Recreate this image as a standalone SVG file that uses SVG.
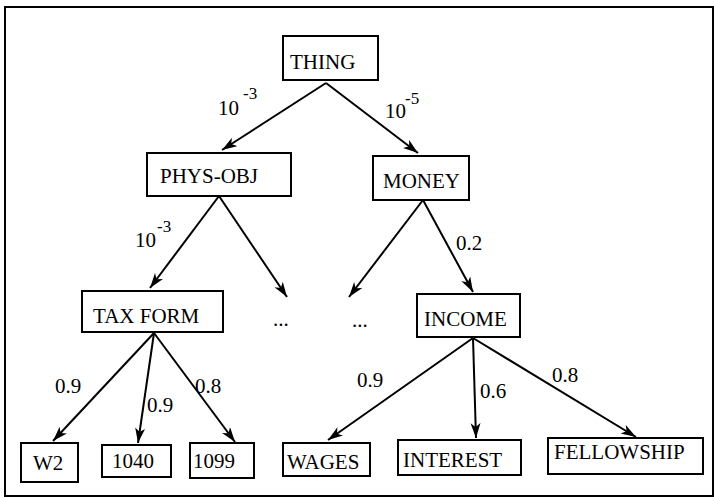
<svg xmlns="http://www.w3.org/2000/svg" width="714" height="498" viewBox="0 0 714 498">
<style>
.box{fill:#fff;stroke:#000;stroke-width:2}
text{font-family:"Liberation Serif","Times New Roman",Times,serif;font-size:21px;fill:#000}
.sup{font-size:17px}
.edge{stroke:#000;stroke-width:2;fill:none;marker-end:url(#arr)}
</style>
<defs>
<marker id="arr" markerUnits="userSpaceOnUse" markerWidth="16" markerHeight="12" refX="15" refY="5" orient="auto">
<path d="M0,0 L15,5 L0,10 L4,5 z" fill="#000"/>
</marker>
</defs>
<rect x="5" y="7" width="708" height="489" fill="#fff" stroke="#000" stroke-width="2"/>
<g id="connectors">
<line class="edge" x1="326" y1="83" x2="222" y2="150"/>
<line class="edge" x1="326" y1="83" x2="418" y2="153"/>
<line class="edge" x1="219" y1="196" x2="150" y2="288"/>
<line class="edge" x1="219" y1="196" x2="287" y2="297"/>
<line class="edge" x1="423" y1="200" x2="349" y2="297"/>
<line class="edge" x1="423" y1="200" x2="473" y2="292"/>
<line class="edge" x1="154" y1="333" x2="53" y2="441"/>
<line class="edge" x1="154" y1="333" x2="138" y2="443"/>
<line class="edge" x1="154" y1="333" x2="235" y2="442"/>
<line class="edge" x1="473" y1="338" x2="328" y2="440"/>
<line class="edge" x1="473" y1="338" x2="476" y2="438"/>
<line class="edge" x1="473" y1="338" x2="636" y2="437"/>
</g>
<g id="edge-labels">
<text x="218" y="115">10</text><text class="sup" x="243" y="99">-3</text>
<text x="385" y="118">10</text><text class="sup" x="405" y="104">-5</text>
<text x="135" y="247">10</text><text class="sup" x="157" y="232">-3</text>
<text x="456" y="250">0.2</text>
<text x="55" y="393">0.9</text>
<text x="147" y="412">0.9</text>
<text x="195" y="393">0.8</text>
<text x="357" y="387">0.9</text>
<text x="480" y="398">0.6</text>
<text x="552" y="382">0.8</text>
</g>
<g id="thing"><rect class="box" x="283" y="36" width="95" height="44"/><text x="290" y="69">THING</text></g>
<g id="phys-obj"><rect class="box" x="147" y="153" width="144" height="43"/><text x="160" y="183">PHYS-OBJ</text></g>
<g id="money"><rect class="box" x="373" y="156" width="96" height="44"/><text x="383" y="188">MONEY</text></g>
<g id="tax-form"><rect class="box" x="82" y="291" width="141" height="41"/><text x="93" y="323">TAX FORM</text></g>
<g id="dots-left"><text x="273" y="326">...</text></g>
<g id="dots-right"><text x="352" y="327">...</text></g>
<g id="income"><rect class="box" x="417" y="294" width="103" height="43"/><text x="424" y="326">INCOME</text></g>
<g id="w2"><rect class="box" x="21" y="443" width="57" height="39"/><text x="33" y="470">W2</text></g>
<g id="f1040"><rect class="box" x="102" y="445" width="69" height="32"/><text x="112" y="468">1040</text></g>
<g id="f1099"><rect class="box" x="190" y="443" width="64" height="35"/><text x="193" y="468">1099</text></g>
<g id="wages"><rect class="box" x="283" y="443" width="87" height="33"/><text x="287" y="469">WAGES</text></g>
<g id="interest"><rect class="box" x="398" y="440" width="123" height="35"/><text x="403" y="467">INTEREST</text></g>
<g id="fellowship"><rect class="box" x="548" y="438" width="155" height="36"/><text x="554" y="459">FELLOWSHIP</text></g>
</svg>
